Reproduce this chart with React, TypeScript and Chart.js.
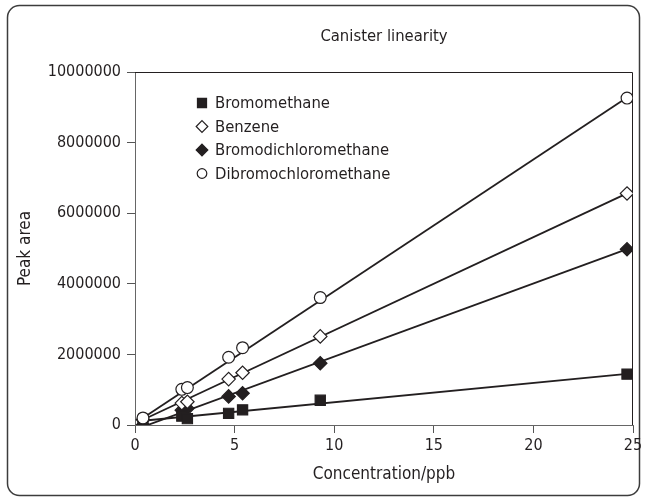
import React, { useEffect, useRef } from "react";
import { Chart, registerables } from "chart.js";

Chart.register(...registerables);

// Concentrations of the canister standards (ppb)
const concentrations = [0.4, 2.35, 2.63, 4.7, 5.4, 9.3, 24.7];

// Peak areas for each compound
const bromomethane = [100000, 250000, 180000, 330000, 430000, 700000, 1440000];
const benzene = [150000, 620000, 660000, 1300000, 1480000, 2510000, 6560000];
const bromodichloromethane = [0, 420000, 470000, 810000, 900000, 1750000, 4980000];
const dibromochloromethane = [200000, 1010000, 1060000, 1920000, 2190000, 3610000, 9260000];

// Linear fits, given as values at the two ends of the calibration range
const fitRange = [0.4, 24.7];
const bromomethaneFit = [120000, 1450000];
const benzeneFit = [150000, 6560000];
const bromodichloromethaneFit = [-50000, 4980000];
const dibromochloromethaneFit = [200000, 9280000];

const seriesNames = ["Bromomethane", "Benzene", "Bromodichloromethane", "Dibromochloromethane"];
const xTicks = [0, 5, 10, 15, 20, 25];
const yTicks = [0, 2000000, 4000000, 6000000, 8000000, 10000000];

const FONT = "'DejaVu Sans Condensed', 'Liberation Sans Narrow', sans-serif";
const INK = "#231f20";

type Marker = { style: "rect" | "diamond" | "circle"; fill: string };
const markers: Marker[] = [
  { style: "rect", fill: INK },
  { style: "diamond", fill: "#ffffff" },
  { style: "diamond", fill: INK },
  { style: "circle", fill: "#ffffff" },
];
// stacking of the marker layers: lower numbers are painted on top
const markerOrder = [1, 2, 3, 0];

function drawMarker(ctx: CanvasRenderingContext2D, m: Marker, x: number, y: number, r: number) {
  ctx.save();
  ctx.beginPath();
  if (m.style === "rect") {
    const h = r * Math.SQRT1_2;
    ctx.rect(x - h, y - h, 2 * h, 2 * h);
  } else if (m.style === "diamond") {
    ctx.moveTo(x, y - r);
    ctx.lineTo(x + r, y);
    ctx.lineTo(x, y + r);
    ctx.lineTo(x - r, y);
    ctx.closePath();
  } else {
    ctx.arc(x, y, r, 0, Math.PI * 2);
  }
  ctx.fillStyle = m.fill;
  ctx.fill();
  ctx.lineWidth = 1.2;
  ctx.strokeStyle = INK;
  ctx.stroke();
  ctx.restore();
}

const toPoints = (ys: number[]) => concentrations.map((x, i) => ({ x, y: ys[i] }));
const toFit = (ys: number[]) => fitRange.map((x, i) => ({ x, y: ys[i] }));

const framePlugin = {
  id: "frame",
  beforeDraw(chart: any) {
    const ctx: CanvasRenderingContext2D = chart.ctx;
    ctx.save();
    ctx.fillStyle = "#ffffff";
    ctx.fillRect(0, 0, chart.width, chart.height);
    ctx.beginPath();
    (ctx as any).roundRect(7.5, 5.5, 632, 490, 12);
    ctx.strokeStyle = "#3c3c3c";
    ctx.lineWidth = 1.5;
    ctx.stroke();
    ctx.restore();
  },
};

const boxPlugin = {
  id: "plotBox",
  beforeDatasetsDraw(chart: any) {
    const { left, right, top, bottom } = chart.chartArea;
    const ctx: CanvasRenderingContext2D = chart.ctx;
    ctx.save();
    ctx.strokeStyle = INK;
    ctx.lineWidth = 1;
    ctx.beginPath();
    const t = Math.round(top) + 0.5;
    const r = Math.round(right) - 0.5;
    ctx.moveTo(left, t);
    ctx.lineTo(r, t);
    ctx.lineTo(r, bottom);
    ctx.stroke();
    ctx.restore();
  },
};

const titleAndLegendPlugin = {
  id: "titleAndLegend",
  afterDraw(chart: any) {
    const { left, right } = chart.chartArea;
    const ctx: CanvasRenderingContext2D = chart.ctx;
    ctx.save();
    ctx.fillStyle = INK;
    ctx.textBaseline = "middle";
    ctx.textAlign = "center";
    ctx.font = `16.5px ${FONT}`;
    ctx.fillText("Canister linearity", (left + right) / 2, 37);

    ctx.textAlign = "left";
    ctx.font = `16.5px ${FONT}`;
    seriesNames.forEach((name, i) => {
      const y = 103 + i * 23.5;
      const m = markers[i];
      const r = m.style === "circle" ? 4.8 : m.style === "rect" ? 6.4 : 5.8;
      drawMarker(ctx, m, 202, y, r);
      ctx.fillStyle = INK;
      ctx.fillText(name, 215, y + 1);
    });
    ctx.restore();
  },
};

export default function App() {
  const canvasRef = useRef<HTMLCanvasElement | null>(null);

  useEffect(() => {
    if (!canvasRef.current) return;
    Chart.defaults.font.family = FONT;
    Chart.defaults.color = INK;

    const pointSets = [bromomethane, benzene, bromodichloromethane, dibromochloromethane];
    const fitSets = [bromomethaneFit, benzeneFit, bromodichloromethaneFit, dibromochloromethaneFit];

    const markerDatasets = pointSets.map((ys, i) => {
      const m = markers[i];
      return {
        label: seriesNames[i],
        data: toPoints(ys),
        showLine: false,
        pointStyle: m.style === "diamond" ? "rectRot" : m.style,
        pointRadius: m.style === "circle" ? 5.9 : m.style === "rect" ? 7.2 : 6.7,
        pointBackgroundColor: m.fill,
        pointBorderColor: INK,
        pointBorderWidth: 1.2,
        order: markerOrder[i],
      };
    });

    const fitDatasets = fitSets.map((ys, i) => ({
      label: seriesNames[i] + " fit",
      data: toFit(ys),
      showLine: true,
      borderColor: INK,
      borderWidth: 1.8,
      pointRadius: 0,
      order: 10,
    }));

    const chart = new Chart(canvasRef.current, {
      type: "scatter",
      data: { datasets: [...markerDatasets, ...fitDatasets] as any },
      plugins: [framePlugin, boxPlugin, titleAndLegendPlugin],
      options: {
        responsive: false,
        animation: false,
        layout: { padding: { left: 0, top: 72, right: 14, bottom: 0 } },
        plugins: {
          legend: { display: false },
          tooltip: { enabled: false },
          title: { display: false },
        },
        scales: {
          x: {
            type: "linear",
            min: 0,
            max: 25,
            afterBuildTicks: (s: any) => {
              s.ticks = xTicks.map((v) => ({ value: v }));
            },
            afterFit: (s: any) => {
              s.height = 76;
            },
            ticks: { font: { size: 16 }, padding: 3, color: INK, maxRotation: 0 },
            grid: { drawOnChartArea: false, drawTicks: true, tickLength: 8, color: "#555" },
            border: { display: true, color: "#666", width: 1 },
            title: {
              display: true,
              text: "Concentration/ppb",
              font: { size: 17 },
              color: INK,
              padding: { top: 0, bottom: 16 },
            },
          },
          y: {
            type: "linear",
            min: 0,
            max: 10000000,
            afterBuildTicks: (s: any) => {
              s.ticks = yTicks.map((v) => ({ value: v }));
            },
            afterFit: (s: any) => {
              s.width = 135;
            },
            ticks: {
              font: { size: 16 },
              padding: 6,
              color: INK,
              callback: (v: any) => String(v),
            },
            grid: { drawOnChartArea: false, drawTicks: true, tickLength: 8, color: "#555" },
            border: { display: true, color: "#666", width: 1 },
            title: {
              display: true,
              text: "Peak area",
              font: { size: 17 },
              color: INK,
              padding: { top: 15, bottom: 0 },
            },
          },
        },
      },
    });

    return () => chart.destroy();
  }, []);

  return (
    <div style={{ position: "fixed", left: 0, top: 0, width: 647, height: 501 }}>
      <canvas ref={canvasRef} width={647} height={501} style={{ width: 647, height: 501 }} />
    </div>
  );
}
